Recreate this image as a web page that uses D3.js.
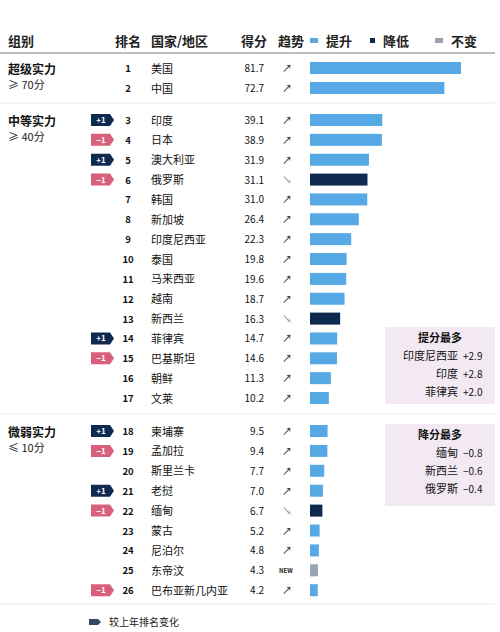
<!DOCTYPE html><html><head><meta charset="utf-8">
<script src="https://cdn.jsdelivr.net/npm/d3@7"></script>
<style>body{margin:0;background:#fff}text{font-family:"Noto Sans CJK SC","Noto Sans",sans-serif}</style></head><body>
<svg id="c" width="500" height="632"></svg>
<script>
const countries=["美国","中国","印度","日本","澳大利亚","俄罗斯","韩国","新加坡","印度尼西亚","泰国","马来西亚","越南","新西兰","菲律宾","巴基斯坦","朝鲜","文莱","柬埔寨","孟加拉","斯里兰卡","老挝","缅甸","蒙古","尼泊尔","东帝汶","巴布亚新几内亚"];
const scores=[81.7,72.7,39.1,38.9,31.9,31.1,31.0,26.4,22.3,19.8,19.6,18.7,16.3,14.7,14.6,11.3,10.2,9.5,9.4,7.7,7.0,6.7,5.2,4.8,4.3,4.2];
const trends=["up","up","up","up","up","down","up","up","up","up","up","up","down","up","up","up","up","up","up","up","up","down","up","up","new","up"];
const rankChange=[0,0,1,-1,1,-1,0,0,0,0,0,0,0,1,-1,0,0,1,-1,0,1,-1,0,0,0,-1];
const groups=[{name:"超级实力",sub:"≥ 70分",from:0,to:1},{name:"中等实力",sub:"≥ 40分",from:2,to:16},{name:"微弱实力",sub:"≤ 10分",from:17,to:25}];
const topGain=[["印度尼西亚","+2.9"],["印度","+2.8"],["菲律宾","+2.0"]];
const topLoss=[["缅甸","−0.8"],["新西兰","−0.6"],["俄罗斯","−0.4"]];
const col={up:"#56a9e4",down:"#0f2a50",new:"#98a4b0"};
const svg=d3.select("#c");
const x=d3.scaleLinear().domain([0,81.7]).range([310,461]);
// y positions per row
const rowY=i=>i<2?68+i*20:(i<17?120+(i-2)*19.86:431+(i-17)*19.9);
// header
const hy=41;
svg.append("text").attr("x",8).attr("y",hy+5).text("组别").attr("font-size",13).attr("font-weight",700).attr("fill","#222");
svg.append("text").attr("x",128).attr("y",hy+5).text("排名").attr("font-size",13).attr("font-weight",700).attr("text-anchor","middle").attr("fill","#222");
svg.append("text").attr("x",151).attr("y",hy+5).text("国家/地区").attr("font-size",13).attr("font-weight",700).attr("fill","#222");
svg.append("text").attr("x",254).attr("y",hy+5).text("得分").attr("font-size",13).attr("font-weight",700).attr("text-anchor","middle").attr("fill","#222");
svg.append("text").attr("x",278).attr("y",hy+5).text("趋势").attr("font-size",13).attr("font-weight",700).attr("fill","#222");
[["提升","up",310],["降低","down",370],["不变","new",435]].forEach(([t,k,xx])=>{
 svg.append("rect").attr("x",xx).attr("y",hy-3).attr("width",k=="down"?5:8).attr("height",5).attr("fill",col[k]);
 svg.append("text").attr("x",xx+(k=="down"?13:16)).attr("y",hy+5).text(t).attr("font-size",13).attr("font-weight",700).attr("fill","#222");});
svg.append("line").attr("x1",0).attr("x2",495).attr("y1",53).attr("y2",53).attr("stroke","#aaa").attr("stroke-width",1.5);
// separators
[103,414,604].forEach(y=>svg.append("line").attr("x1",0).attr("x2",495).attr("y1",y).attr("y2",y).attr("stroke","#e6e9ee").attr("stroke-width",1.2));
// groups
groups.forEach(g=>{const y=rowY(g.from);
 svg.append("text").attr("x",8).attr("y",y+6).text(g.name).attr("font-size",12).attr("font-weight",700).attr("fill","#111");
 svg.append("text").attr("x",8).attr("y",y+21).text(g.sub).attr("font-size",11).attr("fill","#222");});
// rows
countries.forEach((c,i)=>{const y=rowY(i);
 svg.append("text").attr("x",128).attr("y",y+4).text(i+1).attr("font-size",9.5).attr("font-weight",700).attr("text-anchor","middle").attr("fill","#111");
 svg.append("text").attr("x",151).attr("y",y+4.5).text(c).attr("font-size",11).attr("fill","#111");
 svg.append("text").attr("x",264).attr("y",y+4).text(scores[i].toFixed(1)).attr("font-size",10).attr("text-anchor","end").attr("fill","#111");
 if(trends[i]=="new") svg.append("text").attr("x",279).attr("y",y+3).text("NEW").attr("font-size",6).attr("font-weight",700).attr("fill","#222");
 else svg.append("text").attr("x",287).attr("y",y+4).text(trends[i]=="up"?"↗":"↘").attr("font-size",10).attr("text-anchor","middle").attr("fill",trends[i]=="up"?"#222":"#999");
 svg.append("rect").attr("x",x(0)).attr("y",y-6).attr("width",x(scores[i])-x(0)).attr("height",12).attr("fill",col[trends[i]]);
 const rc=rankChange[i];
 if(rc){const bx=91,by=y-6;
  svg.append("path").attr("d",`M${bx},${by}h19l4,6l-4,6h-19z`).attr("fill",rc>0?"#0f2a50":"#d9607a");
  svg.append("text").attr("x",bx+10).attr("y",by+9).text(rc>0?"+1":"−1").attr("font-size",8).attr("font-weight",700).attr("text-anchor","middle").attr("fill","#fff");}
});
function box(y,h,title,items){
 svg.append("rect").attr("x",385).attr("y",y).attr("width",110).attr("height",h).attr("fill","#f3e9f3");
 svg.append("text").attr("x",440).attr("y",y+15).text(title).attr("font-size",11).attr("font-weight",700).attr("text-anchor","middle").attr("fill","#111");
 items.forEach((d,k)=>{const yy=y+33+k*18;
  svg.append("text").attr("x",458).attr("y",yy).text(d[0]).attr("font-size",11).attr("text-anchor","end").attr("fill","#111");
  svg.append("text").attr("x",463).attr("y",yy).text(d[1]).attr("font-size",10).attr("fill","#111");});}
box(327,77,"提分最多",topGain);
box(424,82,"降分最多",topLoss);
// footer legend
svg.append("path").attr("d","M89,619h9l3,3l-3,3h-9z").attr("fill","#334a66");
svg.append("text").attr("x",109).attr("y",626).text("较上年排名变化").attr("font-size",10).attr("fill","#222");
</script></body></html>
